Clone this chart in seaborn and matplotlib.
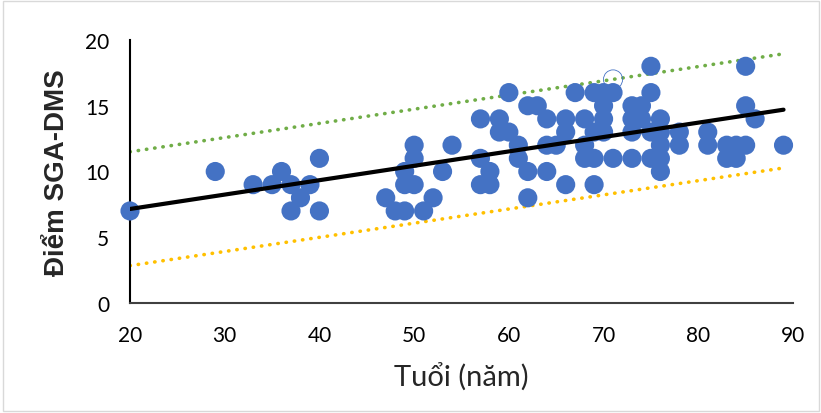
import matplotlib
matplotlib.use("Agg")
import matplotlib.pyplot as plt
import pandas as pd
import seaborn as sns
from matplotlib.patches import Rectangle

# Data (age in years, SGA-DMS score)
ages = [20, 29, 33, 35, 36, 37, 37, 38, 39, 40, 40,
        47, 48, 49, 51, 52, 49, 50, 49, 50, 50, 53, 54,
        57, 57, 57, 58, 58, 59, 59, 60, 60, 61, 61, 62, 62, 62, 63,
        64, 64, 65, 64, 66, 66, 66, 67, 68, 68, 68, 69, 69, 70, 71,
        70, 70, 69, 70, 69, 71, 73, 75, 75, 73, 74, 73, 74, 76, 73,
        75, 76, 76, 75, 76, 76, 78, 78, 81, 81, 83, 84, 85, 83, 84,
        85, 86, 85, 89]
scores = [7, 10, 9, 9, 10, 9, 7, 8, 9, 11, 7,
          8, 7, 7, 7, 8, 9, 9, 10, 11, 12, 10, 12,
          14, 11, 9, 9, 10, 14, 13, 13, 16, 12, 11, 10, 8, 15, 15,
          14, 12, 12, 10, 14, 13, 9, 16, 14, 12, 11, 9, 16, 16, 16,
          15, 14, 13, 13, 11, 11, 11, 18, 16, 15, 15, 14, 14, 14, 13,
          13, 13, 12, 11, 11, 10, 13, 12, 13, 12, 12, 12, 12, 11, 11,
          15, 14, 18, 12]
hollow_age = [71]
hollow_score = [17]

# trend line and upper / lower bands (end values)
line_x = [20, 89]
trend_y = [7.15, 14.7]
upper_y = [11.5, 18.95]
lower_y = [2.84, 10.27]

df = pd.DataFrame({"age": ages, "score": scores})

sns.set_style("white")
plt.rcParams["font.family"] = ["Lato", "DejaVu Sans"]

fig = plt.figure(figsize=(8.21, 4.14), dpi=100)
ax = fig.add_axes([130 / 821, 110 / 414, 663 / 821, 263 / 414])

sns.scatterplot(data=df, x="age", y="score", ax=ax, s=190, color="#4472C4",
                edgecolor="none", zorder=3, clip_on=False)
ax.scatter(hollow_age, hollow_score, s=190, facecolor="none",
           edgecolor="#4472C4", linewidth=0.6, zorder=3)

sns.lineplot(x=line_x, y=upper_y, ax=ax, color="#70AD47", linewidth=2.6,
             linestyle=(0, (0.1, 2.2)), dash_capstyle="round", zorder=2)
sns.lineplot(x=line_x, y=lower_y, ax=ax, color="#FFC000", linewidth=2.6,
             linestyle=(0, (0.1, 2.2)), dash_capstyle="round", zorder=2)
sns.lineplot(x=line_x, y=trend_y, ax=ax, color="black", linewidth=3.0, zorder=4)

ax.set_xlim(20, 90)
ax.set_ylim(0, 20)
ax.set_xticks(range(20, 91, 10))
ax.set_yticks(range(0, 21, 5))
ax.tick_params(axis="both", length=0, labelsize=15, colors="black")
ax.tick_params(axis="y", pad=15)
ax.tick_params(axis="x", pad=16)

for side in ["top", "right"]:
    ax.spines[side].set_visible(False)
ax.spines["left"].set_color("black")
ax.spines["left"].set_linewidth(1.5)
ax.spines["bottom"].set_color("#404040")
ax.spines["bottom"].set_linewidth(1.5)

ax.set_xlabel("Tuổi (năm)", fontsize=21)
ax.set_ylabel("Điểm SGA-DMS", fontsize=20, fontweight="bold",
              family=["Liberation Sans", "DejaVu Sans"])
ax.xaxis.set_label_coords(0.5, -0.28)
ax.yaxis.set_label_coords(-0.11, 0.5)
ax.xaxis.label.set_va("center")
ax.yaxis.label.set_va("center")

# light chart-area border
fig.patches.append(Rectangle((0.004, 0.006), 0.994, 0.99, transform=fig.transFigure,
                             fill=False, edgecolor="#D9D9D9", linewidth=1))

fig.savefig("out.png", dpi=100)
